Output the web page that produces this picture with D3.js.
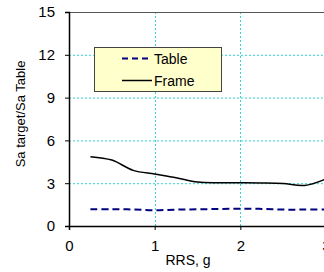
<!DOCTYPE html>
<html>
<head>
<meta charset="utf-8">
<script src="https://cdn.jsdelivr.net/npm/d3@7"></script>
<style>
  body { margin: 0; background: #fff; }
  svg { display: block; font-family: "Liberation Sans", Arial, sans-serif; }
</style>
</head>
<body>
<div id="chart"></div>
<script>
    // values
    var rrs = [0.25, 0.5, 0.75, 1.0, 1.25, 1.5, 1.75, 2.0, 2.25, 2.5, 2.75, 3.0];
    var frame = [4.86, 4.62, 3.9, 3.64, 3.38, 3.08, 3.03, 3.03, 3.02, 2.98, 2.84, 3.3];
    var table = [1.17, 1.17, 1.16, 1.1, 1.15, 1.17, 1.19, 1.21, 1.2, 1.15, 1.15, 1.16];
    var xTicks = [0, 1, 2, 3];
    var yTicks = [0, 3, 6, 9, 12, 15];
    var seriesNames = ["Table", "Frame"];

    var width = 324, height = 272;
    var margin = {top: 12, left: 69, bottom: 46};
    var plotRight = 326; // the plot runs slightly past the window edge

    const svg = d3.select("#chart").append("svg")
        .attr("width", width)
        .attr("height", height);

    const x = d3.scaleLinear().domain([0, 3]).range([margin.left, plotRight]);
    const y = d3.scaleLinear().domain([0, 15]).range([height - margin.bottom, margin.top]);

    // grid
    svg.append("g")
        .selectAll("line.h")
        .data(yTicks.filter(d => d > 0))
        .enter().append("line")
        .attr("x1", x(0)).attr("x2", plotRight)
        .attr("y1", d => y(d) + 0.5).attr("y2", d => y(d) + 0.5)
        .attr("stroke", "#33d6d6")
        .attr("stroke-dasharray", "2,2");

    svg.append("g")
        .selectAll("line.v")
        .data(xTicks.filter(d => d > 0))
        .enter().append("line")
        .attr("x1", d => Math.round(x(d)) + 0.5).attr("x2", d => Math.round(x(d)) + 0.5)
        .attr("y1", y(15)).attr("y2", y(0))
        .attr("stroke", "#33d6d6")
        .attr("stroke-dasharray", "2,2");

    // plot border top
    svg.append("line")
        .attr("x1", x(0)).attr("x2", plotRight)
        .attr("y1", y(15) + 0.5).attr("y2", y(15) + 0.5)
        .attr("stroke", "#555")
        .attr("stroke-width", 1);

    // axes
    const xAxis = svg.append("g")
        .attr("transform", `translate(0,${y(0)})`)
        .call(d3.axisBottom(x).tickValues(xTicks).tickFormat(d3.format("d")).tickSize(4).tickPadding(10));
    xAxis.select(".domain").attr("stroke", "#000").attr("stroke-width", 1.5);
    xAxis.selectAll("text").attr("font-size", "15px").attr("fill", "#000")
        .attr("font-family", "Liberation Sans, Arial, sans-serif");

    const yAxis = svg.append("g")
        .attr("transform", `translate(${x(0)},0)`)
        .call(d3.axisLeft(y).tickValues(yTicks).tickFormat(d3.format("d")).tickSize(4).tickPadding(10));
    yAxis.select(".domain").attr("stroke", "#000").attr("stroke-width", 1.5);
    yAxis.selectAll("text").attr("font-size", "15px").attr("fill", "#000")
        .attr("font-family", "Liberation Sans, Arial, sans-serif");

    // axis titles
    svg.append("text")
        .attr("x", 188).attr("y", 265)
        .attr("text-anchor", "middle")
        .attr("font-size", "14px")
        .text("RRS, g");

    svg.append("text")
        .attr("transform", "translate(25,114) rotate(-90)")
        .attr("text-anchor", "middle")
        .attr("font-size", "13px")
        .text("Sa target/Sa Table");

    // series
    const line = d3.line()
        .x(d => x(d[0]))
        .y(d => y(d[1]))
        .curve(d3.curveCatmullRom.alpha(0.5));

    const plot = svg.append("g");
    plot.append("path")
        .datum(d3.zip(rrs, table))
        .attr("d", line)
        .attr("fill", "none")
        .attr("stroke", "#000080")
        .attr("stroke-width", 2)
        .attr("stroke-dasharray", "7,4");

    plot.append("path")
        .datum(d3.zip(rrs, frame))
        .attr("d", line)
        .attr("fill", "none")
        .attr("stroke", "#000")
        .attr("stroke-width", 1.5);

    // legend
    const legend = svg.append("g");
    legend.append("rect")
        .attr("x", 94.5).attr("y", 47.5)
        .attr("width", 127).attr("height", 44)
        .attr("fill", "#ffffcc")
        .attr("stroke", "#444")
        .attr("stroke-width", 1);

    const items = legend.selectAll("g.item")
        .data(seriesNames)
        .enter().append("g")
        .attr("transform", (d, i) => `translate(0,${58.5 + i * 22})`);

    items.append("line")
        .attr("x1", 122).attr("x2", 152)
        .attr("y1", 0).attr("y2", 0)
        .attr("stroke", (d, i) => i === 0 ? "#000080" : "#000")
        .attr("stroke-width", (d, i) => i === 0 ? 2 : 1.5)
        .attr("stroke-dasharray", (d, i) => i === 0 ? "6,4" : null);

    items.append("text")
        .attr("x", 154).attr("y", 5)
        .attr("font-size", "14px")
        .text(d => d);
</script>
</body>
</html>
